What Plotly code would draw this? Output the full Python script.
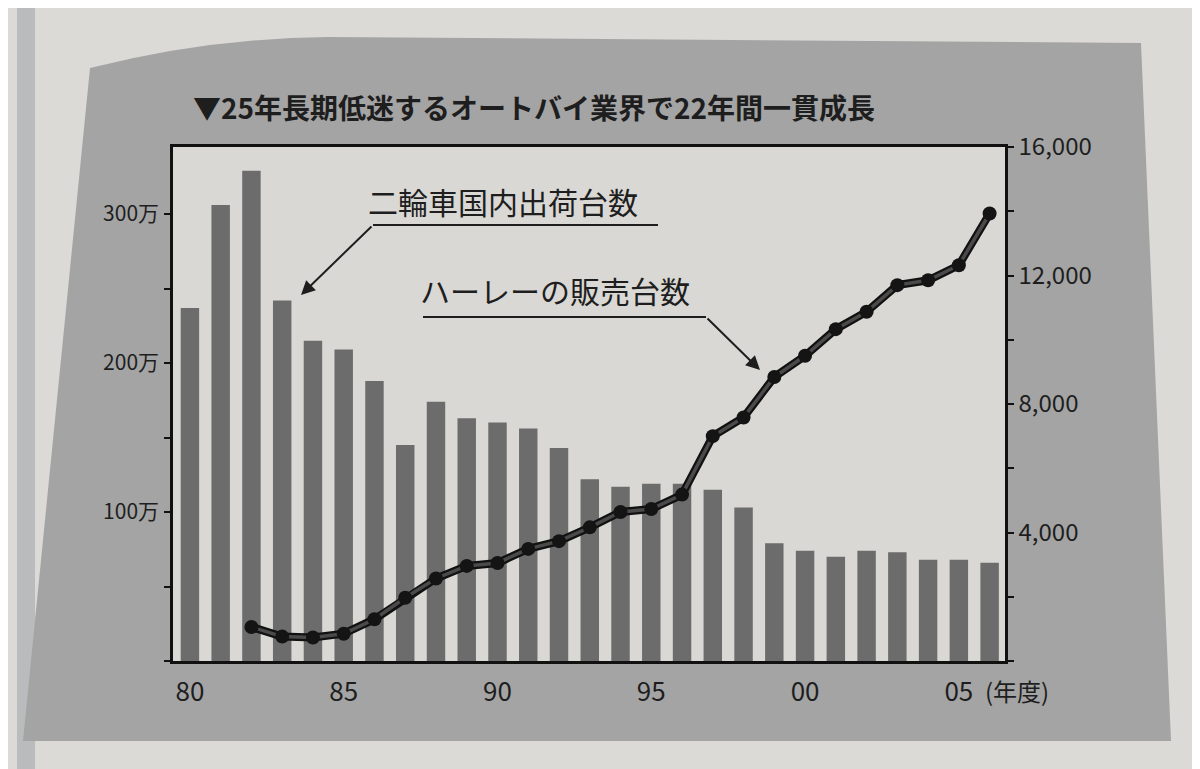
import plotly.graph_objects as go

# 年度 (1980-2006)
years = [1980, 1981, 1982, 1983, 1984, 1985, 1986, 1987, 1988, 1989,
         1990, 1991, 1992, 1993, 1994, 1995, 1996, 1997, 1998, 1999,
         2000, 2001, 2002, 2003, 2004, 2005, 2006]
# 二輪車国内出荷台数 (万台)
shipments = [237, 306, 329, 242, 215, 209, 188, 145, 174, 163,
             160, 156, 143, 122, 117, 119, 119, 115, 103, 79,
             74, 70, 74, 73, 68, 68, 66]

# ハーレーの販売台数 (台)
harley_years = [1982, 1983, 1984, 1985, 1986, 1987, 1988, 1989, 1990,
                1991, 1992, 1993, 1994, 1995, 1996, 1997, 1998, 1999,
                2000, 2001, 2002, 2003, 2004, 2005, 2006]
harley = [1060, 760, 730, 850, 1300, 1970, 2570, 2960, 3050,
          3490, 3730, 4160, 4640, 4730, 5180, 7000, 7580, 8840,
          9500, 10330, 10870, 11700, 11850, 12320, 13930]

x_ticks = [1980, 1985, 1990, 1995, 2000, 2005]
x_labels = ["80", "85", "90", "95", "00", "05"]
left_ticks = [100, 200, 300]
left_labels = ["100万", "200万", "300万"]
right_ticks = [4000, 8000, 12000, 16000]

FONT = "Noto Sans CJK JP"
INK = "#1e1e1e"

# plot area in pixels
L, R, T, B = 165, 997, 139, 653
W, H = R - L, B - T


def px(x, y):
    return (x - L) / W, (B - y) / H


fig = go.Figure()

fig.add_trace(go.Bar(
    x=years, y=shipments, width=0.6,
    marker=dict(color="#6c6c6c", line=dict(width=0)),
    yaxis="y", name="二輪車国内出荷台数",
))
fig.add_trace(go.Scatter(
    x=harley_years, y=harley, mode="lines",
    line=dict(color="#111111", width=8),
    yaxis="y2", hoverinfo="skip",
))
fig.add_trace(go.Scatter(
    x=harley_years, y=harley, mode="lines+markers",
    line=dict(color="#4a4a4a", width=3.5),
    marker=dict(color="#141414", size=14),
    yaxis="y2", name="ハーレーの販売台数",
))

# page / grey box / plot panel
gx0, gy0 = px(82, 60)
gcx, gcy = px(200, 30)
gx1, gy1 = px(320, 29)
gx2, gy2 = px(1133, 35)
gx3, gy3 = px(1163, 733)
gx4, gy4 = px(15, 733)
box_path = (f"M {gx0},{gy0} Q {gcx},{gcy} {gx1},{gy1} L {gx2},{gy2} "
            f"L {gx3},{gy3} L {gx4},{gy4} Z")
sx0, _ = px(9, 0)
sx1, _ = px(27, 0)
shapes = [
    dict(type="rect", xref="paper", yref="paper", x0=sx0, x1=sx1,
         y0=px(0, 769)[1], y1=px(0, 0)[1], fillcolor="#b9bbbc",
         line=dict(width=0), layer="below"),
    dict(type="path", xref="paper", yref="paper", path=box_path,
         fillcolor="#a4a4a4", line=dict(width=0), layer="below"),
    dict(type="rect", xref="paper", yref="paper", x0=0, x1=1, y0=0, y1=1,
         fillcolor="#dad8d4", line=dict(width=0), layer="below"),
]

# underlines of the two callouts
for (xa, ya, xb, yb) in [(365, 217, 650, 217), (415, 309, 698, 309)]:
    ax0, ay0 = px(xa, ya)
    ax1, ay1 = px(xb, yb)
    shapes.append(dict(type="line", xref="paper", yref="paper",
                       x0=ax0, y0=ay0, x1=ax1, y1=ay1,
                       line=dict(color=INK, width=2)))

annotations = []
tx, ty = px(183, 99)
annotations.append(dict(
    x=tx, y=ty, xref="paper", yref="paper", xanchor="left", yanchor="middle",
    text="<b>▼25年長期低迷するオートバイ業界で22年間一貫成長</b>",
    showarrow=False, font=dict(family=FONT, size=28, color=INK),
))
for text, (lx, ly) in [("二輪車国内出荷台数", (358, 193)),
                       ("ハーレーの販売台数", (410, 282))]:
    ax_, ay_ = px(lx, ly)
    annotations.append(dict(
        x=ax_, y=ay_, xref="paper", yref="paper", xanchor="left",
        yanchor="middle", text=text, showarrow=False,
        font=dict(family=FONT, size=30, color=INK),
    ))
# leader arrows (head, tail)
for (hx, hy, tx_, ty_) in [(293, 287, 365, 217), (752, 362, 698, 309)]:
    ax_, ay_ = px(hx, hy)
    annotations.append(dict(
        x=ax_, y=ay_, xref="paper", yref="paper", text="",
        showarrow=True, arrowhead=2, arrowsize=1.4, arrowwidth=2,
        arrowcolor=INK, ax=tx_ - hx, ay=ty_ - hy,
    ))
nx, ny = px(975, 682)
annotations.append(dict(
    x=nx, y=ny, xref="paper", yref="paper", xanchor="left", yanchor="middle",
    text="(年度)", showarrow=False,
    font=dict(family=FONT, size=24, color=INK),
))

fig.update_layout(
    width=1200, height=769,
    margin=dict(l=L, r=1200 - R, t=T, b=769 - B),
    paper_bgcolor="#dcdad6",
    plot_bgcolor="rgba(0,0,0,0)",
    showlegend=False,
    font=dict(family=FONT, color=INK),
    shapes=shapes,
    annotations=annotations,
    xaxis=dict(
        range=[1979.45, 2006.5], tickmode="array",
        tickvals=x_ticks, ticktext=x_labels,
        showline=True, linecolor="#111111", linewidth=2.5, mirror=True,
        showgrid=False, zeroline=False, ticks="",
        ticklabelstandoff=6,
        tickfont=dict(family=FONT, size=26, color=INK),
    ),
    yaxis=dict(
        range=[0, 345], tickmode="array",
        tickvals=left_ticks, ticktext=left_labels,
        showline=True, linecolor="#111111", linewidth=2.5, mirror=True,
        showgrid=False, zeroline=False,
        ticks="outside", ticklen=6, tickwidth=2, tickcolor="#111111",
        minor=dict(dtick=50, tick0=0, ticks="outside", ticklen=6,
                   tickwidth=2, tickcolor="#111111"),
        ticklabelstandoff=1,
        tickfont=dict(family=FONT, size=21, color=INK),
    ),
    yaxis2=dict(
        range=[0, 16000], overlaying="y", side="right", tickmode="array",
        tickvals=right_ticks, tickformat=",",
        showline=True, linecolor="#111111", linewidth=2.5,
        showgrid=False, zeroline=False,
        ticks="outside", ticklen=6, tickwidth=2, tickcolor="#111111",
        minor=dict(dtick=2000, tick0=0, ticks="outside", ticklen=6,
                   tickwidth=2, tickcolor="#111111"),
        ticklabelstandoff=0,
        tickfont=dict(family=FONT, size=24, color=INK),
    ),
)

fig.write_html("out.html")
